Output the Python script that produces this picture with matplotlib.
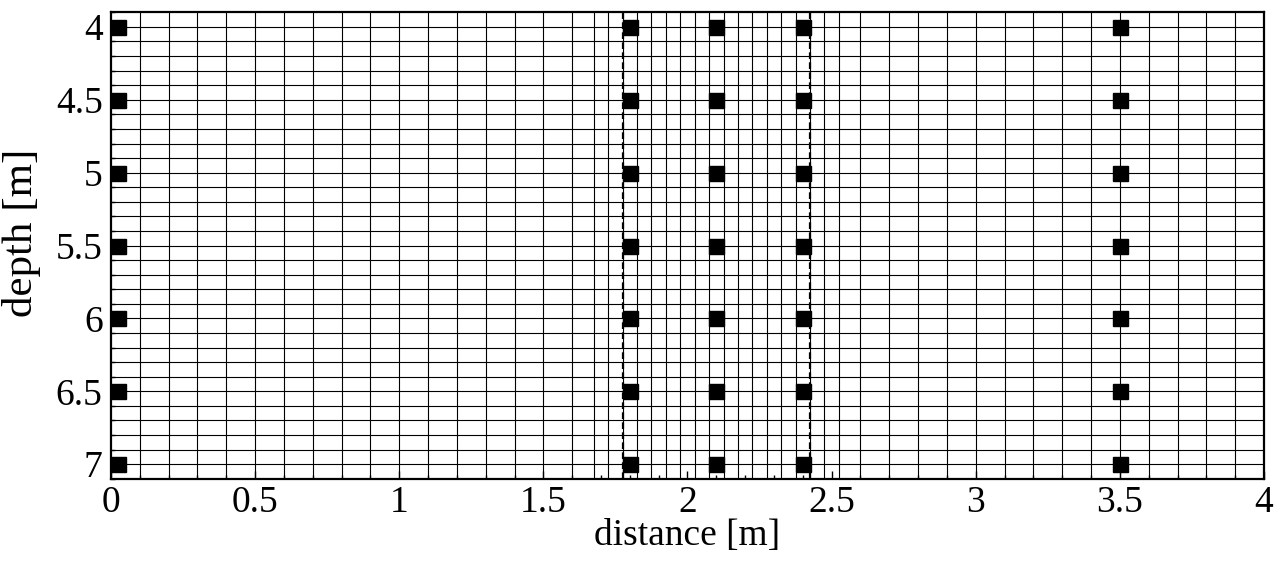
import matplotlib
matplotlib.use('Agg')
from matplotlib import pyplot as plt
from matplotlib.ticker import MultipleLocator

# mesh lines (coarse 0.1 m cells, refined 0.05 m cells around the trench)
mesh_x = [0.1, 0.2, 0.3, 0.4, 0.5, 0.6, 0.7, 0.8, 0.9, 1.0, 1.1, 1.2, 1.3, 1.4, 1.5, 1.6,
          1.675, 1.725, 1.775, 1.825, 1.875, 1.925, 1.975, 2.025, 2.075, 2.125,
          2.175, 2.225, 2.275, 2.325, 2.375, 2.425, 2.475, 2.525,
          2.6, 2.7, 2.8, 2.9, 3.0, 3.1, 3.2, 3.3, 3.4, 3.5, 3.6, 3.7, 3.8, 3.9]
mesh_y = [4.0, 4.1, 4.2, 4.3, 4.4, 4.5, 4.6, 4.7, 4.8, 4.9, 5.0, 5.1, 5.2, 5.3, 5.4, 5.5,
          5.6, 5.7, 5.8, 5.9, 6.0, 6.1, 6.2, 6.3, 6.4, 6.5, 6.6, 6.7, 6.8, 6.9, 7.0]

# trench walls
walls_x = [1.775, 2.425]

# observation points
obs_x = [0.025, 1.8, 2.1, 2.4, 3.5]
obs_y = [4.0, 4.5, 5.0, 5.5, 6.0, 6.5, 7.0]

x_ticks = [0, 0.5, 1, 1.5, 2, 2.5, 3, 3.5, 4]
x_labels = ['0', '0.5', '1', '1.5', '2', '2.5', '3', '3.5', '4']
y_ticks = [4, 4.5, 5, 5.5, 6, 6.5, 7]
y_labels = ['4', '4.5', '5', '5.5', '6', '6.5', '7']

plt.rcParams['font.family'] = ['Liberation Serif', 'DejaVu Serif']

fig = plt.figure(figsize=(12.8, 5.61), dpi=100)
ax = fig.add_axes([0.0867, 0.1467, 0.9008, 0.8313])

for x in mesh_x:
    ax.axvline(x, color='black', lw=0.8, zorder=1)
for y in mesh_y:
    ax.axhline(y, color='black', lw=0.8, zorder=1)
for x in walls_x:
    ax.axvline(x, color='black', lw=1.6, linestyle=(0, (3, 1.5)), zorder=2)

for x in obs_x:
    ax.plot([x] * len(obs_y), obs_y, 's', color='black', ms=10.8, zorder=3, clip_on=False)

ax.set_xlim(0, 4)
ax.set_ylim(7.1, 3.9)
ax.set_xticks(x_ticks, x_labels)
ax.set_yticks(y_ticks, y_labels)
ax.xaxis.set_minor_locator(MultipleLocator(0.1))
ax.yaxis.set_minor_locator(MultipleLocator(0.1))
ax.tick_params(which='both', direction='in', labelsize=27, top=False, right=False, width=1)
ax.tick_params(which='major', length=6, pad=6)
ax.tick_params(axis='x', which='major', pad=5)
ax.tick_params(which='minor', length=3)
for s in ax.spines.values():
    s.set_linewidth(1.6)

ax.set_xlabel('distance [m]', fontsize=27, labelpad=-1)
ax.set_ylabel('depth [m]', fontsize=31)
ax.yaxis.set_label_coords(-0.061, 0.527)

fig.savefig('out.png', dpi=100)
